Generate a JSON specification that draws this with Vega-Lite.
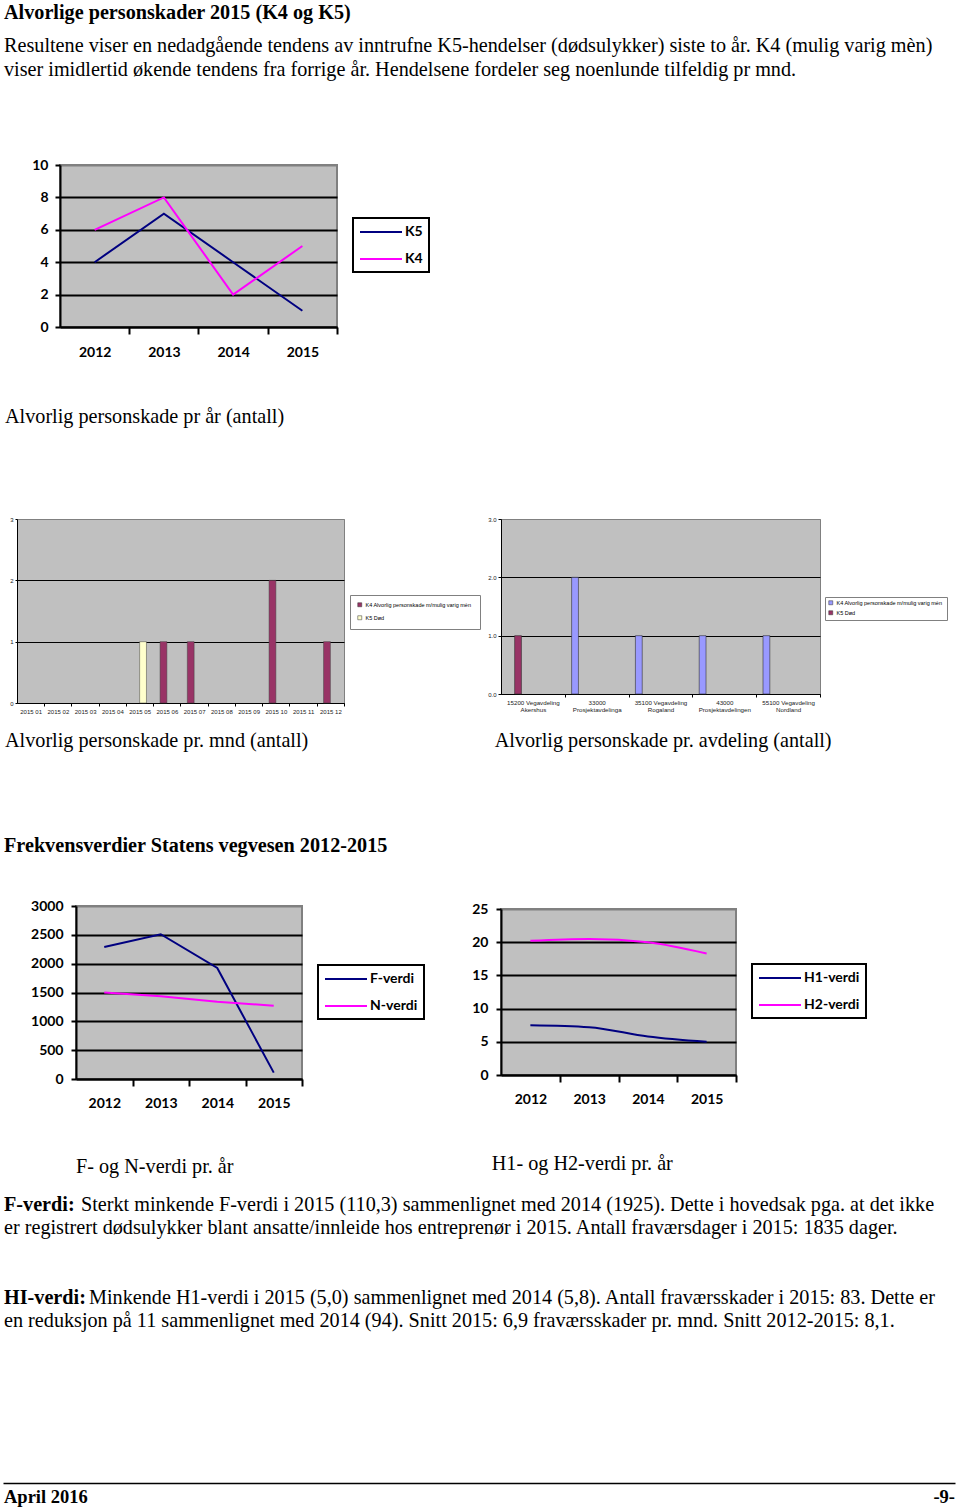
{
  "$schema": "https://vega.github.io/schema/vega-lite/v6.json",
  "background": "white",
  "padding": {"left": 3, "top": 2, "right": 5, "bottom": 0},
  "title": {
    "text": "Alvorlige personskader 2015 (K4 og K5)",
    "subtitle": [
      "Resultene viser en nedadgående tendens av inntrufne K5-hendelser (dødsulykker) siste to år. K4 (mulig varig mèn)",
      "viser imidlertid økende tendens fra forrige år. Hendelsene fordeler seg noenlunde tilfeldig pr mnd."
    ],
    "anchor": "start",
    "frame": "bounds",
    "dx": 1,
    "font": "Liberation Serif",
    "fontSize": 20.2,
    "fontWeight": "bold",
    "color": "black",
    "subtitleFont": "Liberation Serif",
    "subtitleFontSize": 20.2,
    "subtitleColor": "black",
    "subtitleLineHeight": 24,
    "subtitlePadding": 13,
    "offset": 77
  },
  "config": {
    "view": {"fill": "#C0C0C0", "stroke": "#808080", "strokeWidth": 2},
    "axis": {"title": null, "domainColor": "black", "tickColor": "black", "gridColor": "black", "labelColor": "black", "labelFont": "Lato", "labelFontWeight": "bold", "labelFontSize": 14, "labelAngle": 0},
    "legend": {"labelFont": "Lato", "labelFontWeight": "bold", "labelFontSize": 14, "labelColor": "black", "orient": "none", "strokeColor": "black", "strokeWidth": 2, "fillColor": "white", "padding": 6, "rowPadding": 12, "symbolType": "M-1,0H5", "symbolSize": 196, "symbolStrokeWidth": 2, "labelOffset": 30},
    "title": {"font": "Liberation Serif", "fontSize": 20.2, "fontWeight": "normal", "color": "black", "anchor": "start"}
  },
  "resolve": {"scale": {"color": "independent"}, "legend": {"color": "independent"}},
  "columns": 1,
  "spacing": 16,
  "concat": [
    {
      "columns": 1,
      "spacing": 84,
      "resolve": {"scale": {"color": "independent"}, "legend": {"color": "independent"}},
      "concat": [
        {
          "columns": 2,
          "spacing": 0,
          "resolve": {"scale": {"color": "independent"}, "legend": {"color": "independent"}},
          "concat": [
            {"width": 1, "height": 1, "view": {"fill": null, "stroke": null}, "data": {"values": [{}]}, "mark": {"type": "text"}, "encoding": {"text": {"value": ""}}},
            {
              "width": 277,
              "height": 162,
              "data": {"values": [
                {"year": "2012", "series": "K5", "value": 4},
                {"year": "2013", "series": "K5", "value": 7},
                {"year": "2014", "series": "K5", "value": 4},
                {"year": "2015", "series": "K5", "value": 1},
                {"year": "2012", "series": "K4", "value": 6},
                {"year": "2013", "series": "K4", "value": 8},
                {"year": "2014", "series": "K4", "value": 2},
                {"year": "2015", "series": "K4", "value": 5}
              ]},
              "title": {"text": "Alvorlig personskade pr år (antall)", "orient": "bottom", "anchor": "start", "frame": "bounds", "offset": 48},
              "mark": {"type": "line", "strokeWidth": 2},
              "encoding": {
                "x": {"field": "year", "type": "ordinal", "title": null,
                  "scale": {"type": "point", "padding": 0.5},
                  "axis": {"grid": false, "domainWidth": 2, "tickSize": 7, "tickWidth": 2, "tickOffset": 34.6, "labelOffset": -34.6, "labelPadding": 11}},
                "y": {"field": "value", "type": "quantitative", "title": null, "scale": {"domain": [0, 10]},
                  "axis": {"values": [0, 2, 4, 6, 8, 10], "grid": true, "gridWidth": 2,
                    "gridColor": {"condition": {"test": "datum.value == 10", "value": "#808080"}, "value": "black"},
                    "domainWidth": 2, "tickSize": 5, "tickWidth": 2, "labelPadding": 7, "minExtent": 55}},
                "color": {"field": "series", "type": "nominal",
                  "scale": {"domain": ["K5", "K4"], "range": ["#000080", "#FF00FF"]},
                  "legend": {"title": null, "legendX": 293, "legendY": 53}}
              }
            }
          ]
        },
        {
          "columns": 2,
          "spacing": 0,
          "resolve": {"scale": {"color": "independent"}, "legend": {"color": "independent"}},
          "concat": [
            {"width": 1, "height": 1, "view": {"fill": null, "stroke": null}, "data": {"values": [{}]}, "mark": {"type": "text"}, "encoding": {"text": {"value": ""}}},
            {
              "columns": 2,
              "spacing": 6,
              "resolve": {"scale": {"color": "independent"}, "legend": {"color": "independent"}},
              "concat": [
                {
                  "width": 327,
                  "height": 184,
                  "view": {"fill": "#C0C0C0", "stroke": "#808080", "strokeWidth": 1},
                  "data": {"values": [
                    {"month": "2015 05", "type": "K5", "count": 1},
                    {"month": "2015 06", "type": "K4", "count": 1},
                    {"month": "2015 07", "type": "K4", "count": 1},
                    {"month": "2015 10", "type": "K4", "count": 2},
                    {"month": "2015 12", "type": "K4", "count": 1}
                  ]},
                  "title": {"text": "Alvorlig personskade pr. mnd (antall)", "orient": "bottom", "anchor": "start", "frame": "bounds", "offset": 17},
                  "mark": {"type": "bar", "stroke": "#404040", "strokeWidth": 0.5},
                  "encoding": {
                    "x": {"field": "month", "type": "ordinal", "title": null,
                      "scale": {"domain": ["2015 01", "2015 02", "2015 03", "2015 04", "2015 05", "2015 06", "2015 07", "2015 08", "2015 09", "2015 10", "2015 11", "2015 12"], "paddingInner": 0, "paddingOuter": 0},
                      "axis": {"grid": false, "domainWidth": 1, "tickSize": 3, "tickOffset": 13.6, "labelOffset": -13.6, "labelPadding": 2, "labelFont": "Liberation Sans", "labelFontWeight": "normal", "labelFontSize": 6, "labelColor": "#222222"}},
                    "xOffset": {"field": "type", "type": "nominal", "scale": {"domain": ["K4", "K5"], "paddingInner": 0, "paddingOuter": 1.1}},
                    "y": {"field": "count", "type": "quantitative", "title": null, "scale": {"domain": [0, 3]},
                      "axis": {"values": [0, 1, 2, 3], "grid": true, "gridWidth": 1,
                        "gridColor": {"condition": {"test": "datum.value == 3", "value": "#808080"}, "value": "black"},
                        "domainWidth": 1, "tickSize": 2, "labelPadding": 2, "minExtent": 12,
                        "labelFont": "Liberation Sans", "labelFontWeight": "normal", "labelFontSize": 6, "labelColor": "#222222"}},
                    "color": {"field": "type", "type": "nominal",
                      "scale": {"domain": ["K4", "K5"], "range": ["#993366", "#FFFFCC"]},
                      "legend": {"title": null, "legendX": 333, "legendY": 76,
                        "labelExpr": "datum.label == 'K4' ? 'K4  Alvorlig personskade m/mulig varig mèn' : 'K5  Død'",
                        "labelFont": "Liberation Sans", "labelFontWeight": "normal", "labelFontSize": 5.5,
                        "strokeColor": "#808080", "padding": 7, "rowPadding": 5,
                        "symbolType": "square", "symbolSize": 16, "symbolStrokeWidth": 0.5, "symbolStrokeColor": "#333333", "labelOffset": 3,
                        "encode": {"legend": {"update": {"strokeWidth": {"value": 1}}}}}}
                  }
                },
                {
                  "width": 319,
                  "height": 175,
                  "view": {"fill": "#C0C0C0", "stroke": "#808080", "strokeWidth": 1},
                  "data": {"values": [
                    {"dept": "15200 Vegavdeling Akershus", "type": "K5", "count": 1},
                    {"dept": "33000 Prosjektavdelinga", "type": "K4", "count": 2},
                    {"dept": "35100 Vegavdeling Rogaland", "type": "K4", "count": 1},
                    {"dept": "43000 Prosjektavdelingen", "type": "K4", "count": 1},
                    {"dept": "55100 Vegavdeling Nordland", "type": "K4", "count": 1}
                  ]},
                  "title": {"text": "Alvorlig personskade pr. avdeling (antall)", "orient": "bottom", "anchor": "start", "frame": "bounds", "dx": 7, "offset": 19},
                  "mark": {"type": "bar", "stroke": "#303030", "strokeWidth": 0.6},
                  "encoding": {
                    "x": {"field": "dept", "type": "nominal", "title": null,
                      "scale": {"paddingInner": 0, "paddingOuter": 0},
                      "axis": {"grid": false, "domainWidth": 1, "tickSize": 3, "tickOffset": 31.9, "labelOffset": -31.9, "labelPadding": 2,
                        "labelExpr": "[slice(datum.label, 0, lastindexof(datum.label, ' ')), slice(datum.label, lastindexof(datum.label, ' ') + 1)]",
                        "labelLineHeight": 7, "labelFont": "Liberation Sans", "labelFontWeight": "normal", "labelFontSize": 6.2, "labelColor": "#222222"}},
                    "xOffset": {"field": "type", "type": "nominal", "scale": {"domain": ["K4", "K5"], "paddingInner": 0, "paddingOuter": 0.6}},
                    "y": {"field": "count", "type": "quantitative", "title": null, "scale": {"domain": [0, 3]},
                      "axis": {"values": [0, 1, 2, 3], "format": ".1f", "grid": true, "gridWidth": 1,
                        "gridColor": {"condition": {"test": "datum.value == 3", "value": "#808080"}, "value": "black"},
                        "domainWidth": 1, "tickSize": 3, "labelPadding": 2,
                        "labelFont": "Liberation Sans", "labelFontWeight": "normal", "labelFontSize": 6, "labelColor": "#222222"}},
                    "color": {"field": "type", "type": "nominal",
                      "scale": {"domain": ["K4", "K5"], "range": ["#9999FF", "#993366"]},
                      "legend": {"title": null, "legendX": 324, "legendY": 78,
                        "labelExpr": "datum.label == 'K4' ? 'K4  Alvorlig personskade m/mulig varig mèn' : 'K5  Død'",
                        "labelFont": "Liberation Sans", "labelFontWeight": "normal", "labelFontSize": 5.5,
                        "strokeColor": "#808080", "padding": 3, "rowPadding": 2,
                        "symbolType": "square", "symbolSize": 16, "symbolStrokeWidth": 0.5, "symbolStrokeColor": "#333333", "labelOffset": 3,
                        "encode": {"legend": {"update": {"strokeWidth": {"value": 1}}}}}}
                  }
                }
              ]
            }
          ]
        },
        {
          "title": {"text": "Frekvensverdier Statens vegvesen 2012-2015", "fontWeight": "bold", "anchor": "start", "frame": "bounds", "dx": 1, "offset": 30},
          "columns": 2,
          "spacing": 0,
          "resolve": {"scale": {"color": "independent"}, "legend": {"color": "independent"}},
          "concat": [
            {"width": 1, "height": 1, "view": {"fill": null, "stroke": null}, "data": {"values": [{}]}, "mark": {"type": "text"}, "encoding": {"text": {"value": ""}}},
            {
              "columns": 2,
              "spacing": 44,
              "resolve": {"scale": {"color": "independent"}, "legend": {"color": "independent"}},
              "concat": [
                {
                  "columns": 1,
                  "spacing": 0,
                  "resolve": {"scale": {"color": "independent"}, "legend": {"color": "independent"}},
                  "concat": [
                    {"width": 1, "height": 1, "view": {"fill": null, "stroke": null}, "data": {"values": [{}]}, "mark": {"type": "text"}, "encoding": {"text": {"value": ""}}},
                    {
                      "width": 226,
                      "height": 173,
                      "data": {"values": [
                        {"year": "2012", "series": "F-verdi", "value": 2290},
                        {"year": "2013", "series": "F-verdi", "value": 2510},
                        {"year": "2014", "series": "F-verdi", "value": 1925},
                        {"year": "2015", "series": "F-verdi", "value": 110.3},
                        {"year": "2012", "series": "N-verdi", "value": 1500},
                        {"year": "2013", "series": "N-verdi", "value": 1434},
                        {"year": "2014", "series": "N-verdi", "value": 1341},
                        {"year": "2015", "series": "N-verdi", "value": 1271}
                      ]},
                      "title": {"text": "F- og N-verdi pr. år", "orient": "bottom", "anchor": "start", "frame": "group", "offset": 47},
                      "mark": {"type": "line", "strokeWidth": 2},
                      "encoding": {
                        "x": {"field": "year", "type": "ordinal", "title": null,
                          "scale": {"type": "point", "padding": 0.5},
                          "axis": {"grid": false, "domainWidth": 2, "tickSize": 7, "tickWidth": 2, "tickOffset": 28.25, "labelOffset": -28.25, "labelPadding": 10}},
                        "y": {"field": "value", "type": "quantitative", "title": null, "scale": {"domain": [0, 3000]},
                          "axis": {"values": [0, 500, 1000, 1500, 2000, 2500, 3000], "format": "d", "grid": true, "gridWidth": 2,
                            "gridColor": {"condition": {"test": "datum.value == 3000", "value": "#808080"}, "value": "black"},
                            "domainWidth": 2, "tickSize": 5, "tickWidth": 2, "labelPadding": 8, "minExtent": 71}},
                        "color": {"field": "series", "type": "nominal",
                          "scale": {"domain": ["F-verdi", "N-verdi"], "range": ["#000080", "#FF00FF"]},
                          "legend": {"title": null, "legendX": 242, "legendY": 59}}
                      }
                    }
                  ]
                },
                {
                  "title": {"text": "H1- og H2-verdi pr. år", "orient": "bottom", "anchor": "start", "frame": "bounds", "dx": 21, "offset": 47},
                  "columns": 1,
                  "spacing": 0,
                  "resolve": {"scale": {"color": "independent"}, "legend": {"color": "independent"}},
                  "concat": [
                    {"width": 1, "height": 8, "view": {"fill": null, "stroke": null}, "data": {"values": [{}]}, "mark": {"type": "text"}, "encoding": {"text": {"value": ""}}},
                    {
                      "width": 235,
                      "height": 166,
                      "data": {"values": [
                        {"year": "2012", "series": "H1-verdi", "value": 7.5},
                        {"year": "2013", "series": "H1-verdi", "value": 7.2},
                        {"year": "2014", "series": "H1-verdi", "value": 5.8},
                        {"year": "2015", "series": "H1-verdi", "value": 5.0},
                        {"year": "2012", "series": "H2-verdi", "value": 20.2},
                        {"year": "2013", "series": "H2-verdi", "value": 20.5},
                        {"year": "2014", "series": "H2-verdi", "value": 20.0},
                        {"year": "2015", "series": "H2-verdi", "value": 18.3}
                      ]},
                      "mark": {"type": "line", "strokeWidth": 2, "interpolate": "monotone"},
                      "encoding": {
                        "x": {"field": "year", "type": "ordinal", "title": null,
                          "scale": {"type": "point", "padding": 0.5},
                          "axis": {"grid": false, "domainWidth": 2, "tickSize": 7, "tickWidth": 2, "tickOffset": 29.4, "labelOffset": -29.4, "labelPadding": 10}},
                        "y": {"field": "value", "type": "quantitative", "title": null, "scale": {"domain": [0, 25]},
                          "axis": {"values": [0, 5, 10, 15, 20, 25], "grid": true, "gridWidth": 2,
                            "gridColor": {"condition": {"test": "datum.value == 25", "value": "#808080"}, "value": "black"},
                            "domainWidth": 2, "tickSize": 5, "tickWidth": 2, "labelPadding": 8}},
                        "color": {"field": "series", "type": "nominal",
                          "scale": {"domain": ["H1-verdi", "H2-verdi"], "range": ["#000080", "#FF00FF"]},
                          "legend": {"title": null, "legendX": 251, "legendY": 55}}
                      }
                    }
                  ]
                }
              ]
            }
          ]
        }
      ]
    },
    {
      "width": 951,
      "height": 262,
      "view": {"fill": null, "stroke": null},
      "data": {"values": [
        {"para": "F", "line": 1, "label": "F-verdi:", "text": "Sterkt minkende F-verdi i 2015 (110,3) sammenlignet med 2014 (1925). Dette i hovedsak pga. at det ikke"},
        {"para": "F", "line": 2, "text": "er registrert dødsulykker blant ansatte/innleide hos entreprenør i 2015. Antall fraværsdager i 2015: 1835 dager."},
        {"para": "H", "line": 5, "label": "HI-verdi:", "text": "Minkende H1-verdi i 2015 (5,0) sammenlignet med 2014 (5,8). Antall fraværsskader i 2015: 83. Dette er"},
        {"para": "H", "line": 6, "text": "en reduksjon på 11 sammenlignet med 2014 (94). Snitt 2015: 6,9 fraværsskader pr. mnd. Snitt 2012-2015: 8,1."}
      ]},
      "encoding": {
        "x": {"value": 1},
        "y": {"field": "line", "type": "quantitative", "scale": {"domain": [1, 6], "range": [0, 116]}, "axis": null}
      },
      "layer": [
        {
          "transform": [{"filter": "isValid(datum.label)"}],
          "mark": {"type": "text", "align": "left", "baseline": "middle", "font": "Liberation Serif", "fontSize": 20.2, "fontWeight": "bold", "color": "black"},
          "encoding": {"text": {"field": "label"}}
        },
        {
          "transform": [{"filter": "datum.para == 'F' && isValid(datum.label)"}],
          "mark": {"type": "text", "align": "left", "baseline": "middle", "font": "Liberation Serif", "fontSize": 20.2, "color": "black", "dx": 77},
          "encoding": {"text": {"field": "text"}}
        },
        {
          "transform": [{"filter": "datum.para == 'H' && isValid(datum.label)"}],
          "mark": {"type": "text", "align": "left", "baseline": "middle", "font": "Liberation Serif", "fontSize": 20.2, "color": "black", "dx": 85},
          "encoding": {"text": {"field": "text"}}
        },
        {
          "transform": [{"filter": "!isValid(datum.label)"}],
          "mark": {"type": "text", "align": "left", "baseline": "middle", "font": "Liberation Serif", "fontSize": 20.2, "color": "black"},
          "encoding": {"text": {"field": "text"}}
        }
      ]
    },
    {
      "width": 952,
      "height": 28,
      "view": {"fill": null, "stroke": null},
      "data": {"values": [
        {"side": "left", "text": "April 2016"},
        {"side": "right", "text": "-9-"}
      ]},
      "encoding": {
        "x": {"field": "side", "type": "nominal", "title": null,
          "scale": {"type": "point", "domain": ["left", "right"], "padding": 0},
          "axis": {"orient": "top", "labels": false, "ticks": false, "grid": false, "domainWidth": 1.5, "domainColor": "black"}}
      },
      "layer": [
        {
          "transform": [{"filter": "datum.side == 'left'"}],
          "mark": {"type": "text", "align": "left", "baseline": "middle", "dx": 1, "font": "Liberation Serif", "fontSize": 18.5, "fontWeight": "bold", "color": "black"},
          "encoding": {"text": {"field": "text"}}
        },
        {
          "transform": [{"filter": "datum.side == 'right'"}],
          "mark": {"type": "text", "align": "right", "baseline": "middle", "font": "Liberation Serif", "fontSize": 18.5, "fontWeight": "bold", "color": "black"},
          "encoding": {"text": {"field": "text"}}
        }
      ]
    }
  ]
}
